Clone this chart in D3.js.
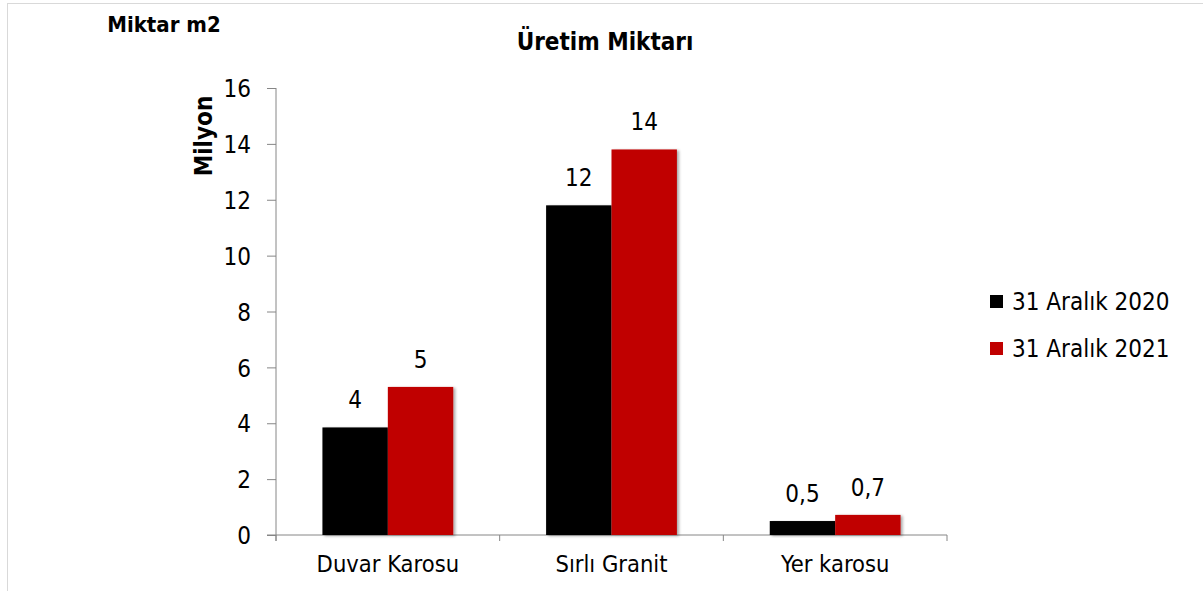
<!DOCTYPE html>
<html>
<head>
<meta charset="utf-8">
<script src="https://cdn.jsdelivr.net/npm/d3@7"></script>
<style>
  body { margin: 0; background: #fff; }
  svg text { font-family: "DejaVu Sans Condensed", "DejaVu Sans", sans-serif; fill: #000; }
</style>
</head>
<body>
<script>
// Chart data
var categories = ["Duvar Karosu", "Sırlı Granit", "Yer karosu"];
var seriesNames = ["31 Aralık 2020", "31 Aralık 2021"];
var values2020 = [3.85, 11.8, 0.5];
var values2021 = [5.3, 13.8, 0.72];
var labels2020 = ["4", "12", "0,5"];
var labels2021 = ["5", "14", "0,7"];
var yTicks = [0, 2, 4, 6, 8, 10, 12, 14, 16];
var colors = ["#000000", "#c00000"];

var W = 1203, H = 591;
var plot = {left: 276, right: 947, top: 88, bottom: 535};

var svg = d3.select("body").append("svg")
    .attr("width", W).attr("height", H);

// soft shadow like the office chart
var defs = svg.append("defs");
var f = defs.append("filter").attr("id", "shadow")
    .attr("x", "-10%").attr("y", "-10%").attr("width", "130%").attr("height", "130%");
f.append("feGaussianBlur").attr("in", "SourceAlpha").attr("stdDeviation", 1.5).attr("result", "b");
f.append("feOffset").attr("in", "b").attr("dx", 2).attr("dy", 1).attr("result", "o");
f.append("feComponentTransfer").attr("in", "o").attr("result", "o2")
    .append("feFuncA").attr("type", "linear").attr("slope", 0.35);
var fm = f.append("feMerge");
fm.append("feMergeNode").attr("in", "o2");
fm.append("feMergeNode").attr("in", "SourceGraphic");

// outer frame
svg.append("rect")
    .attr("x", 7.5).attr("y", 3.5).attr("width", 1300).attr("height", 700)
    .attr("fill", "none").attr("stroke", "#d9d9d9");

// Scales
var x = d3.scaleBand().domain(categories).range([plot.left, plot.right]).paddingInner(0).paddingOuter(0);
var xSub = d3.scaleBand().domain(seriesNames).range([0, x.bandwidth()]).paddingInner(0).paddingOuter(0.71);
var y = d3.scaleLinear().domain([0, 16]).range([plot.bottom, plot.top]);

// Y axis
var yAxis = d3.axisLeft(y).tickValues(yTicks).tickSize(9).tickPadding(16).tickFormat(d3.format("d"));
var gy = svg.append("g").attr("transform", "translate(" + plot.left + ",0)").call(yAxis);
gy.select(".domain").attr("d", "M0," + (plot.top) + "V" + (plot.bottom + 6)).attr("stroke", "#868686");
gy.selectAll(".tick line").attr("stroke", "#868686");
gy.selectAll(".tick text").style("font-size", "24px").attr("dy", "0.36em");

// X axis
var gx = svg.append("g").attr("transform", "translate(0," + plot.bottom + ")");
gx.append("line").attr("x1", plot.left - 9).attr("x2", plot.right)
    .attr("stroke", "#868686");
var boundaries = categories.map(function(c) { return x(c); }).concat([plot.right]);
gx.selectAll("line.tk").data(boundaries).enter().append("line")
    .attr("class", "tk")
    .attr("x1", function(d) { return d; }).attr("x2", function(d) { return d; })
    .attr("y1", 0).attr("y2", 6).attr("stroke", "#868686");
gx.selectAll("text").data(categories).enter().append("text")
    .attr("x", function(d) { return x(d) + x.bandwidth() / 2; })
    .attr("y", 37)
    .attr("text-anchor", "middle")
    .style("font-size", "23.5px")
    .text(function(d) { return d; });

// Bars
var series = [
  {name: seriesNames[0], values: values2020, labels: labels2020, color: colors[0]},
  {name: seriesNames[1], values: values2021, labels: labels2021, color: colors[1]}
];
series.forEach(function(s) {
    var g = svg.append("g");
    g.selectAll("rect").data(categories).enter().append("rect")
        .attr("x", function(d) { return x(d) + xSub(s.name); })
        .attr("width", xSub.bandwidth())
        .attr("y", function(d, i) { return y(s.values[i]); })
        .attr("height", function(d, i) { return plot.bottom - y(s.values[i]); })
        .attr("fill", s.color)
        .attr("filter", "url(#shadow)");
    g.selectAll("text").data(categories).enter().append("text")
        .attr("x", function(d) { return x(d) + xSub(s.name) + xSub.bandwidth() / 2; })
        .attr("y", function(d, i) { return y(s.values[i]) - 19; })
        .attr("text-anchor", "middle")
        .style("font-size", "24px")
        .text(function(d, i) { return s.labels[i]; });
});

// Titles
svg.append("text").attr("x", 605).attr("y", 50).attr("text-anchor", "middle")
    .style("font-size", "24px").style("font-weight", "bold")
    .text("Üretim Miktarı");
svg.append("text").attr("x", 164).attr("y", 32).attr("text-anchor", "middle")
    .style("font-size", "22px").style("font-weight", "bold")
    .text("Miktar m2");
svg.append("text").attr("transform", "translate(204,136)rotate(-90)")
    .attr("text-anchor", "middle").attr("dy", "0.35em")
    .style("font-size", "24px").style("font-weight", "bold")
    .text("Milyon");

// Legend
var legend = svg.append("g").attr("transform", "translate(990,302)");
var li = legend.selectAll("g").data(series).enter().append("g")
    .attr("transform", function(d, i) { return "translate(0," + (i * 47) + ")"; });
li.append("rect").attr("x", 0).attr("y", -7).attr("width", 13).attr("height", 13)
    .attr("fill", function(d) { return d.color; });
li.append("text").attr("x", 22).attr("dy", "0.35em")
    .style("font-size", "24px")
    .text(function(d) { return d.name; });
</script>
</body>
</html>
